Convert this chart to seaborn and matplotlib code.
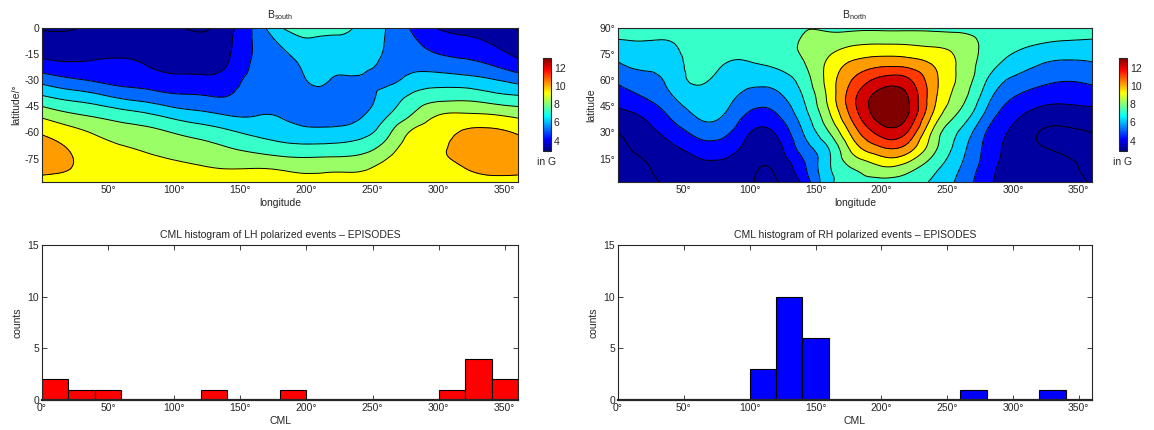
import numpy as np
import pandas as pd
import matplotlib
matplotlib.use("Agg")
import matplotlib.pyplot as plt
import matplotlib.tri as mtri
from matplotlib.colors import Normalize, LinearSegmentedColormap
from matplotlib.cm import ScalarMappable
import seaborn as sns

# ---------------- data ----------------
grid_lon = [0, 20, 40, 60, 80, 100, 120, 140, 160, 180, 200, 220, 240, 260, 280, 300, 320, 340, 360]
south_lat = [0, -10, -20, -30, -40, -50, -60, -70, -80, -88.5]
north_lat = [1.5, 10, 20, 30, 40, 50, 60, 70, 80, 90]

# |B| (in G), rows = latitudes, columns = longitudes
south_field = [
    [2.92, 2.90, 3.20, 3.30, 3.30, 3.10, 2.90, 3.60, 5.10, 6.90, 7.30, 7.20, 6.85, 6.00, 4.85, 3.95, 3.60, 3.40, 2.92],
    [3.50, 3.45, 3.50, 3.60, 3.55, 3.35, 3.25, 3.75, 5.05, 6.00, 6.75, 6.70, 6.60, 5.95, 5.30, 4.60, 4.45, 4.05, 3.50],
    [4.25, 4.05, 4.10, 4.15, 3.90, 3.60, 3.60, 3.95, 5.10, 5.45, 6.25, 6.30, 6.30, 5.85, 5.70, 5.45, 5.20, 4.85, 4.25],
    [5.65, 5.20, 4.90, 4.65, 4.50, 4.30, 4.25, 4.45, 5.30, 5.30, 6.00, 5.95, 5.90, 5.80, 6.30, 6.50, 6.40, 6.10, 5.65],
    [7.20, 6.75, 6.40, 5.90, 5.60, 5.25, 5.15, 5.05, 5.60, 5.50, 5.60, 5.60, 5.60, 6.35, 7.25, 7.70, 7.75, 7.45, 7.20],
    [8.75, 8.20, 7.85, 7.50, 7.15, 6.65, 6.30, 5.98, 5.95, 5.92, 5.50, 5.45, 5.85, 6.85, 8.05, 9.00, 9.15, 9.05, 8.75],
    [9.90, 9.40, 8.90, 8.50, 8.30, 7.95, 7.60, 7.20, 6.80, 6.55, 6.30, 6.35, 6.60, 7.65, 9.15, 9.70, 10.10, 10.20, 9.90],
    [10.35, 10.00, 9.45, 9.15, 8.90, 8.65, 8.45, 8.15, 7.80, 7.50, 7.40, 7.45, 7.65, 8.50, 9.60, 9.95, 10.25, 10.45, 10.35],
    [10.25, 10.05, 9.65, 9.50, 9.35, 9.20, 9.05, 8.95, 8.95, 8.85, 8.70, 8.75, 8.80, 9.30, 9.75, 9.85, 10.02, 10.25, 10.25],
    [9.70, 9.60, 9.45, 9.40, 9.30, 9.25, 9.20, 9.15, 9.20, 9.20, 9.25, 9.25, 9.30, 9.45, 9.60, 9.60, 9.70, 9.75, 9.70],
]

north_field = [
    [2.90, 2.75, 3.20, 3.45, 3.45, 3.10, 2.95, 4.20, 6.70, 7.70, 7.60, 7.60, 6.80, 5.70, 4.30, 3.45, 3.40, 3.35, 2.90],
    [2.80, 2.90, 3.40, 3.70, 3.75, 3.25, 3.15, 4.70, 6.85, 8.15, 8.90, 8.50, 7.30, 6.00, 4.50, 3.50, 3.30, 3.15, 2.80],
    [2.82, 3.20, 3.75, 4.30, 4.40, 3.55, 3.55, 5.35, 6.95, 9.45, 10.70, 10.40, 8.20, 6.40, 4.70, 3.60, 3.10, 2.90, 2.82],
    [3.00, 3.60, 4.40, 5.30, 5.30, 4.03, 4.10, 5.95, 7.95, 10.60, 12.40, 11.95, 8.70, 6.85, 4.95, 3.80, 2.98, 2.85, 3.00],
    [3.65, 4.15, 5.15, 6.10, 6.00, 4.80, 4.90, 6.50, 8.80, 11.60, 13.55, 13.05, 9.75, 7.75, 5.70, 4.30, 3.60, 3.50, 3.65],
    [4.40, 5.00, 5.85, 6.60, 6.40, 5.60, 5.70, 6.95, 9.25, 11.90, 13.50, 13.05, 10.25, 8.40, 6.40, 5.00, 4.45, 4.30, 4.40],
    [5.20, 5.65, 6.30, 7.15, 6.60, 6.30, 6.45, 7.40, 9.40, 11.20, 12.35, 12.20, 10.30, 8.75, 7.00, 5.80, 5.30, 5.05, 5.20],
    [5.96, 6.30, 6.55, 7.35, 7.05, 6.97, 7.20, 7.90, 9.20, 10.20, 10.60, 10.50, 9.85, 8.80, 7.50, 6.70, 6.10, 5.85, 5.96],
    [6.75, 6.85, 6.90, 7.45, 7.35, 7.30, 7.40, 8.15, 8.60, 9.00, 9.10, 9.05, 8.90, 8.60, 7.70, 7.15, 6.95, 6.80, 6.75],
    [7.40, 7.40, 7.40, 7.55, 7.50, 7.45, 7.50, 7.90, 7.80, 7.80, 7.80, 7.80, 7.80, 7.70, 7.60, 7.45, 7.40, 7.40, 7.40],
]

contour_levels = [3, 4, 5, 6, 7, 8, 9, 10, 11, 12, 13]
colorbar_range = (2.86, 13.1)
colorbar_ticks = [4, 6, 8, 10, 12]

cml_centers = [10, 30, 50, 70, 90, 110, 130, 150, 170, 190, 210, 230, 250, 270, 290, 310, 330, 350]
lh_counts = [2, 1, 1, 0, 0, 0, 1, 0, 0, 1, 0, 0, 0, 0, 0, 1, 4, 2]
rh_counts = [0, 0, 0, 0, 0, 3, 10, 6, 0, 0, 0, 0, 0, 1, 0, 0, 1, 0]
lon_ticks = [50, 100, 150, 200, 250, 300, 350]
cml_ticks = [0, 50, 100, 150, 200, 250, 300, 350]
south_ticks = [0, -15, -30, -45, -60, -75]
north_ticks = [15, 30, 45, 60, 75, 90]
count_ticks = [0, 5, 10, 15]

# ---------------- style ----------------
sns.set_style("ticks")
plt.rcParams["font.family"] = ["Liberation Sans", "DejaVu Sans"]
plt.rcParams["mathtext.default"] = "regular"
plt.rcParams["xtick.direction"] = "in"
plt.rcParams["ytick.direction"] = "in"
plt.rcParams["axes.linewidth"] = 0.8
FS = 7.5

# MATLAB-style jet colormap
mjet = LinearSegmentedColormap("mjet", {
    "red":   [(0, 0, 0), (0.375, 0, 0), (0.625, 1, 1), (0.875, 1, 1), (1, 0.5, 0.5)],
    "green": [(0, 0, 0), (0.125, 0, 0), (0.375, 1, 1), (0.625, 1, 1), (0.875, 0, 0), (1, 0, 0)],
    "blue":  [(0, 0.5, 0.5), (0.125, 1, 1), (0.375, 1, 1), (0.625, 0, 0), (1, 0, 0)],
}, N=256)
cbar_norm = Normalize(*colorbar_range)
band_norm = Normalize(2.65, 12.85)


def smooth(lons, lats, field):
    lon2d, lat2d = np.meshgrid(lons, lats)
    nx, ny = len(lons), len(lats)
    tris = []
    for j in range(ny - 1):
        for i in range(nx - 1):
            a = j * nx + i
            tris += [[a, a + 1, a + nx + 1], [a, a + nx + 1, a + nx]]
    tri = mtri.Triangulation(lon2d.ravel() / 2.0, lat2d.ravel(), tris)
    rtri, rz = mtri.UniformTriRefiner(tri).refine_field(np.asarray(field).ravel(), subdiv=3)
    return mtri.Triangulation(rtri.x * 2.0, rtri.y, rtri.triangles), rz


def draw_map(ax, lats, field, title, ylabel, yticks, ylabels, ylim):
    tri, z = smooth(grid_lon, lats, field)
    fill_levels = [min(z.min(), 2.0) - 1] + contour_levels + [max(z.max(), 14.0) + 1]
    band_colors = [mjet(band_norm(contour_levels[0]))] + [mjet(band_norm(v)) for v in contour_levels]
    ax.tricontourf(tri, z, levels=fill_levels, colors=band_colors)
    ax.tricontour(tri, z, levels=contour_levels, colors="k", linewidths=0.7)
    ax.set_xlim(0, 360)
    ax.set_ylim(*ylim)
    ax.set_xticks(lon_ticks)
    ax.set_xticklabels([f"{v}°" for v in lon_ticks])
    ax.set_yticks(yticks)
    ax.set_yticklabels(ylabels)
    ax.set_xlabel("longitude", fontsize=FS, labelpad=2)
    ax.set_ylabel(ylabel, fontsize=FS, labelpad=2)
    ax.set_title(title, fontsize=FS, pad=7)
    ax.tick_params(labelsize=FS, top=True, right=True, length=3.5, width=0.6, pad=2)


def draw_cbar(fig, rect):
    cax = fig.add_axes(rect)
    cb = fig.colorbar(ScalarMappable(norm=cbar_norm, cmap=mjet), cax=cax, ticks=colorbar_ticks)
    cb.outline.set_linewidth(0.8)
    cax.tick_params(labelsize=FS, length=2, width=0.6, direction="in", pad=2)
    cax.text(0.5, -0.06, "in G", transform=cax.transAxes, ha="center", va="top", fontsize=FS)


def draw_hist(ax, counts, color, title):
    df = pd.DataFrame({"CML": cml_centers, "counts": counts})
    sns.histplot(data=df, x="CML", weights="counts", binwidth=20, binrange=(0, 360),
                 color=color, edgecolor="black", linewidth=0.8, alpha=1, ax=ax)
    ax.set_xlim(0, 360)
    ax.set_ylim(0, 15)
    ax.set_xticks(cml_ticks)
    ax.set_xticklabels([f"{v}°" for v in cml_ticks])
    ax.set_yticks(count_ticks)
    ax.set_xlabel("CML", fontsize=FS, labelpad=2)
    ax.set_ylabel("counts", fontsize=FS, labelpad=4)
    ax.set_title(title, fontsize=FS, pad=5)
    ax.tick_params(labelsize=FS, top=True, right=True, length=3.5, width=0.6, pad=2)
    for s in ax.spines.values():
        s.set_visible(True)
        s.set_linewidth(0.8)
    ax.spines["bottom"].set_linewidth(1.6)


W, H = 1154, 430
fig = plt.figure(figsize=(W / 100, H / 100), dpi=100)
ax_s = fig.add_axes([42 / W, 1 - 182 / H, 476 / W, 154 / H])
ax_n = fig.add_axes([618 / W, 1 - 182 / H, 474 / W, 154 / H])
ax_lh = fig.add_axes([42 / W, 1 - 400 / H, 476 / W, 155 / H])
ax_rh = fig.add_axes([618 / W, 1 - 400 / H, 474 / W, 155 / H])

draw_map(ax_s, south_lat, south_field, r"B$_{south}$", "latitude/°",
         south_ticks, [str(v) for v in south_ticks], (-88.5, 0))
draw_map(ax_n, north_lat, north_field, r"B$_{north}$", "latitude",
         north_ticks, [f"{v}°" for v in north_ticks], (1.5, 90))
draw_cbar(fig, [543 / W, 1 - 151 / H, 8 / W, 93 / H])
draw_cbar(fig, [1119 / W, 1 - 151 / H, 8 / W, 93 / H])

draw_hist(ax_lh, lh_counts, "#ff0000", "CML histogram of LH polarized events – EPISODES")
draw_hist(ax_rh, rh_counts, "#0000ff", "CML histogram of RH polarized events – EPISODES")

fig.savefig("out.png", dpi=100)
